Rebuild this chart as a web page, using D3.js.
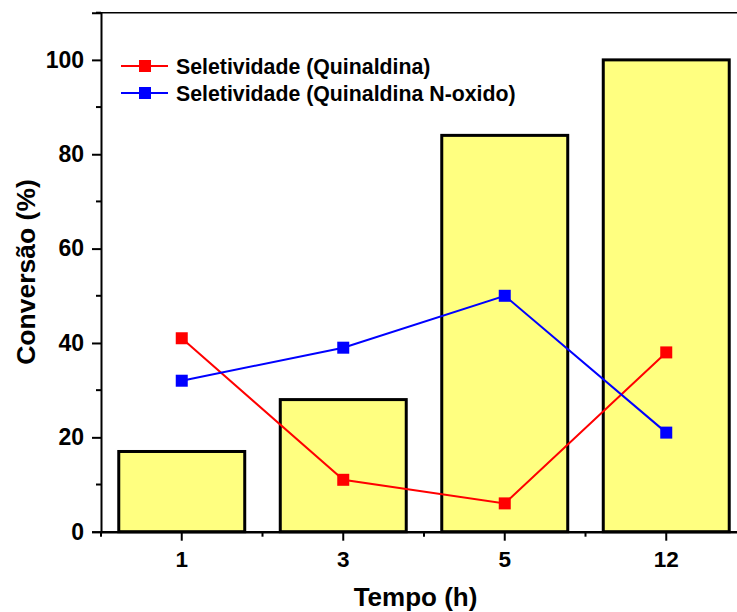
<!DOCTYPE html>
<html>
<head>
<meta charset="utf-8">
<script src="https://cdn.jsdelivr.net/npm/d3@7"></script>
<style>
  html, body { margin: 0; padding: 0; background: #fff; }
  svg { display: block; font-family: "Liberation Sans", Arial, sans-serif; font-weight: bold; }
</style>
</head>
<body>
<svg id="chart" width="737" height="612"></svg>
<script>
// Reaction time (h) and conversion / selectivity values (%)
const categories = ["1", "3", "5", "12"];
const conversao = [17, 28, 84, 100];
const seletQuinaldina = [41, 11, 6, 38];
const seletNoxido = [32, 39, 50, 21];
const yMajorTicks = [0, 20, 40, 60, 80, 100];
const yMinorTicks = [10, 30, 50, 70, 90, 110];
const seriesNames = ["Seletividade (Quinaldina)", "Seletividade (Quinaldina N-oxido)"];
const seriesColors = ["#ff0000", "#0000ff"];

const svg = d3.select("#chart");
const plotLeft = 101, plotRight = 747, plotTop = 12.7, plotBottom = 531.7;

const x = d3.scaleBand().domain(categories).range([plotLeft, plotRight]);
const y = d3.scaleLinear().domain([0, 110]).range([plotBottom, plotTop]);
const cx = d => x(d) + x.bandwidth() / 2;
const barW = x.bandwidth() * 0.78;

// Bars: conversion
svg.append("g").selectAll("rect")
  .data(categories)
  .join("rect")
  .attr("x", d => cx(d) - barW / 2)
  .attr("y", (d, i) => y(conversao[i]))
  .attr("width", barW)
  .attr("height", (d, i) => y(0) - y(conversao[i]))
  .attr("fill", "#ffff80")
  .attr("stroke", "#000")
  .attr("stroke-width", 3);

// Top frame line
svg.append("line")
  .attr("x1", plotLeft).attr("x2", plotRight)
  .attr("y1", y(110)).attr("y2", y(110))
  .attr("stroke", "#000").attr("stroke-width", 1.5);

// Y axis
const yAxis = svg.append("g")
  .attr("transform", `translate(${plotLeft},0)`)
  .call(d3.axisLeft(y).tickValues(yMajorTicks).tickSize(9).tickPadding(8).tickFormat(d3.format("d")));
yAxis.select(".domain").attr("stroke-width", 2);
yAxis.selectAll(".tick line").attr("stroke-width", 2);
yAxis.selectAll(".tick text").attr("font-size", 23).attr("font-weight", "bold").attr("fill", "#000")
  .attr("font-family", "Liberation Sans, Arial, sans-serif");
svg.append("g").selectAll("line")
  .data(yMinorTicks).join("line")
  .attr("x1", plotLeft - 5).attr("x2", plotLeft)
  .attr("y1", d => y(d)).attr("y2", d => y(d))
  .attr("stroke", "#000").attr("stroke-width", 2);

// X axis
const xAxis = svg.append("g")
  .attr("transform", `translate(0,${plotBottom})`)
  .call(d3.axisBottom(x).tickSize(9).tickPadding(10).tickSizeOuter(0));
xAxis.select(".domain").attr("stroke-width", 2.5);
xAxis.selectAll(".tick line").attr("stroke-width", 2);
xAxis.selectAll(".tick text").attr("font-size", 22.5).attr("font-weight", "bold").attr("fill", "#000")
  .attr("font-family", "Liberation Sans, Arial, sans-serif");
svg.append("g").selectAll("line")
  .data(categories).join("line")
  .attr("x1", d => x(d)).attr("x2", d => x(d))
  .attr("y1", plotBottom).attr("y2", plotBottom + 5)
  .attr("stroke", "#000").attr("stroke-width", 2);

// Selectivity lines
[seletQuinaldina, seletNoxido].forEach((vals, s) => {
  const g = svg.append("g");
  const line = d3.line().x((d, i) => cx(categories[i])).y(d => y(d));
  g.append("path").datum(vals)
    .attr("d", line).attr("fill", "none")
    .attr("stroke", seriesColors[s]).attr("stroke-width", 2);
  g.selectAll("rect").data(vals).join("rect")
    .attr("x", (d, i) => cx(categories[i]) - 6)
    .attr("y", d => y(d) - 6)
    .attr("width", 12).attr("height", 12)
    .attr("fill", seriesColors[s]);
});

// Legend
const legend = svg.append("g");
seriesNames.forEach((name, i) => {
  const ly = 66 + i * 27;
  legend.append("line").attr("x1", 121).attr("x2", 168).attr("y1", ly).attr("y2", ly)
    .attr("stroke", seriesColors[i]).attr("stroke-width", 2);
  legend.append("rect").attr("x", 139).attr("y", ly - 6).attr("width", 12).attr("height", 12)
    .attr("fill", seriesColors[i]);
  legend.append("text").attr("x", 176).attr("y", ly + 7.5)
    .attr("font-size", 21.3).text(name);
});

// Axis titles
svg.append("text").attr("x", 415.5).attr("y", 606).attr("text-anchor", "middle")
  .attr("font-size", 26).text("Tempo (h)");
svg.append("text").attr("transform", "translate(35,272) rotate(-90)").attr("text-anchor", "middle")
  .attr("font-size", 26.5).text("Conversão (%)");
</script>
</body>
</html>
